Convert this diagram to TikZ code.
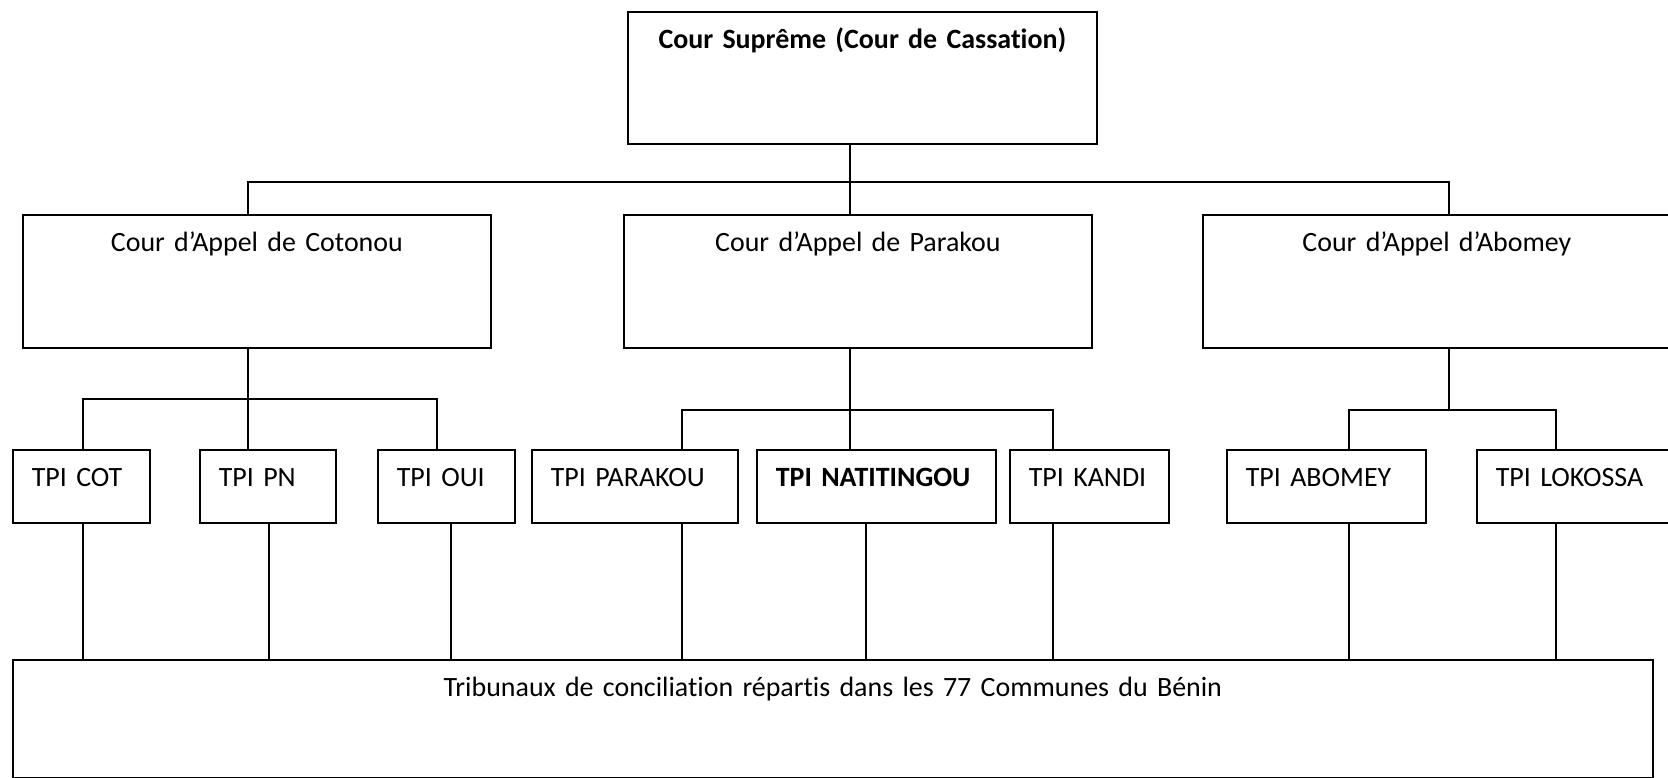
\documentclass[tikz,border=0pt]{standalone}
\usepackage{fontspec}
\setmainfont{Carlito}[RawFeature={-liga;-clig;-calt;-dlig}]
\newlength{\px}
\setlength{\px}{0.02cm}

\begin{document}
\begin{tikzpicture}[x=0.02cm, y=-0.02cm,
        font={\fontsize{15.9}{19}\selectfont\spaceskip=0.85\fontdimen2\font},
        court/.style={draw, line width=1pt, anchor=north west, inner sep=0pt,
                      text height=37\px, align=center},
        tpi/.style={draw, line width=1pt, anchor=north west, inner xsep=19\px,
                    inner ysep=0pt, text height=37\px, text depth=36\px, align=left},
        link/.style={line width=0.7pt}]
        \useasboundingbox (0,0) rectangle (1668,778);
        \clip (0,0) rectangle (1668,778);

%% boxes
        \node [court, text width=469\px, text depth=95\px] (supreme) at (627,11) {\textbf{Cour Suprême (Cour de Cassation)}};
        \node [court, text width=468\px, text depth=96\px] (cotonou) at (22,214) {Cour d’Appel de Cotonou};
        \node [court, text width=468\px, text depth=96\px] (parakou) at (623,214) {Cour d’Appel de Parakou};
        \node [court, text width=468\px, text depth=96\px] (abomey) at (1202,214) {Cour d’Appel d’Abomey};

        \node [tpi, text width=99\px]  (tcot)     at (12,449)   {TPI COT};
        \node [tpi, text width=98\px]  (tpn)      at (199,449)  {TPI PN};
        \node [tpi, text width=99\px]  (toui)     at (377,449)  {TPI OUI};
        \node [tpi, text width=168\px] (tparakou) at (531,449)  {TPI PARAKOU};
        \node [tpi, text width=201\px] (tnati)    at (756,449)  {\textbf{TPI NATITINGOU}};
        \node [tpi, text width=121\px] (tkandi)   at (1009,449) {TPI KANDI};
        \node [tpi, text width=161\px] (tabomey)  at (1226,449) {TPI ABOMEY};
        \node [tpi, text width=160\px] (tlokossa) at (1476,449) {TPI LOKOSSA};

        \node [court, text width=1640\px, text depth=81\px] (conc) at (12,659) {Tribunaux de conciliation répartis dans les 77 Communes du Bénin};

%% paths
        \coordinate (sup) at (850,182);
        \draw [link] (supreme.south -| sup) -- (sup);
        \draw [link] (cotonou.north -| 248,0) |- (sup) -| (abomey.north -| 1449,0);
        \draw [link] (sup) -- (parakou.north -| sup);

        \coordinate (cot) at (248,399);
        \draw [link] (cotonou.south -| cot) -- (cot);
        \draw [link] (tcot.north -| 83,0) |- (cot) -| (toui.north -| 437,0);
        \draw [link] (cot) -- (tpn.north -| cot);

        \coordinate (par) at (850,410);
        \draw [link] (parakou.south -| par) -- (par);
        \draw [link] (tparakou.north -| 682,0) |- (par) -| (tkandi.north -| 1053,0);
        \draw [link] (par) -- (tnati.north -| par);

        \coordinate (abo) at (1449,410);
        \draw [link] (abomey.south -| abo) -- (abo);
        \draw [link] (tabomey.north -| 1349,0) |- (abo) -| (tlokossa.north -| 1556,0);

        \foreach \t/\x in {tcot/83, tpn/269, toui/451, tparakou/682, tnati/866,
                           tkandi/1053, tabomey/1349, tlokossa/1556}
            \draw [link] (\t.south -| \x,0) -- (conc.north -| \x,0);
\end{tikzpicture}
\end{document}
